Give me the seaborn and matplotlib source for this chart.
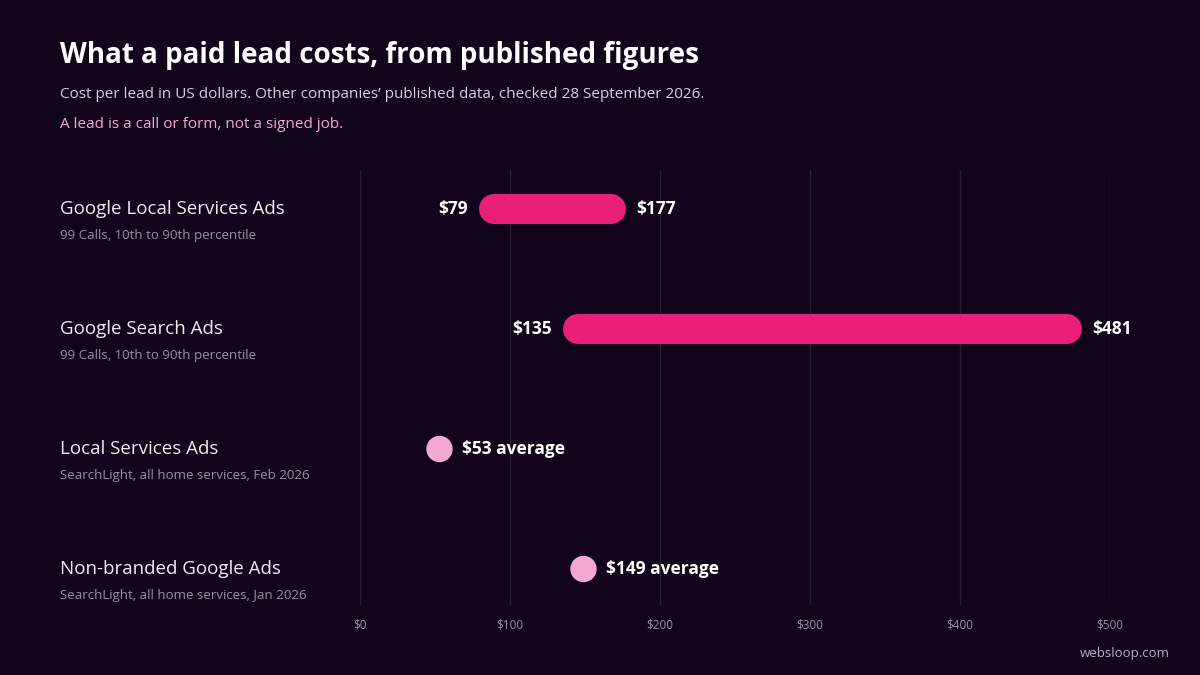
import matplotlib
matplotlib.use("Agg")
import matplotlib.pyplot as plt
import matplotlib.transforms as mtransforms
import seaborn as sns
import pandas as pd

# data
range_names = ["Google Local Services Ads", "Google Search Ads"]
range_notes = ["99 Calls, 10th to 90th percentile", "99 Calls, 10th to 90th percentile"]
range_low = [79, 135]
range_high = [177, 481]
avg_names = ["Local Services Ads", "Non-branded Google Ads"]
avg_notes = ["SearchLight, all home services, Feb 2026", "SearchLight, all home services, Jan 2026"]
avg_values = [53, 149]
ticks = [0, 100, 200, 300, 400, 500]

BG = "#12041a"
PINK = "#ea1f79"
LIGHT = "#f5a9d2"

sns.set_theme(style="dark")
plt.rcParams["font.family"] = ["Open Sans", "DejaVu Sans"]

fig = plt.figure(figsize=(12, 6.75), dpi=100, facecolor=BG)
ax = fig.add_axes([0.3, 1 - 605 / 675, 0.625, (605 - 170) / 675])
ax.set_facecolor(BG)
ax.set_xlim(0, 500)
ax.set_ylim(3.3, -0.325)
for s in ax.spines.values():
    s.set_visible(False)
ax.set_yticks([])
ax.set_xticks(ticks)
ax.set_xticklabels([f"${t}" for t in ticks], color="#9a8fa3", fontsize=8.5)
ax.tick_params(axis="x", length=0, pad=10)
ax.grid(False)
for t in ticks:
    ax.axvline(t, color="#2a1d33", lw=1, zorder=0)

# cap radius of 15 px converted to dollars (750 px spans 500 dollars)
cap = 15 * 500 / 750
for i, (lo, hi) in enumerate(zip(range_low, range_high)):
    ax.plot([lo + cap, hi - cap], [i, i], color=PINK, lw=21.6, solid_capstyle="round", zorder=3)
    ax.text(lo - 7, i, f"${lo}", ha="right", va="center", color="white",
            fontsize=12.5, fontweight="bold")
    ax.text(hi + 7, i, f"${hi}", ha="left", va="center", color="white",
            fontsize=12.5, fontweight="bold")

df = pd.DataFrame({"value": avg_values, "row": [2, 3]})
sns.scatterplot(data=df, x="value", y="row", ax=ax, s=360, color=LIGHT,
                edgecolor="none", zorder=3, legend=False)
for v, r in zip(avg_values, df["row"]):
    ax.text(v + 15, r, f"${v} average", ha="left", va="center", color="white",
            fontsize=12.5, fontweight="bold")
ax.set_xlabel("")
ax.set_ylabel("")

tr = mtransforms.blended_transform_factory(fig.transFigure, ax.transData)
for i, (n, note) in enumerate(zip(range_names + avg_names, range_notes + avg_notes)):
    ax.text(60 / 1200, i, n, transform=tr, ha="left", va="center",
            color="#f1ecf4", fontsize=13.5)
    ax.text(60 / 1200, i + 0.22, note, transform=tr, ha="left", va="center",
            color="#9a8fa3", fontsize=9.5)

fig.text(60 / 1200, 1 - 56 / 675, "What a paid lead costs, from published figures",
         color="white", fontsize=20, fontweight="bold", va="center")
fig.text(60 / 1200, 1 - 95 / 675,
         "Cost per lead in US dollars. Other companies\u2019 published data, checked 28 September 2026.",
         color="#d8d0de", fontsize=11, va="center")
fig.text(60 / 1200, 1 - 125 / 675, "A lead is a call or form, not a signed job.",
         color=LIGHT, fontsize=11, va="center")
fig.text(1170 / 1200, 1 - 653 / 675, "websloop.com", color="#b8aec0",
         fontsize=9.5, ha="right", va="center")

fig.savefig("out.png", dpi=100, facecolor=BG)
